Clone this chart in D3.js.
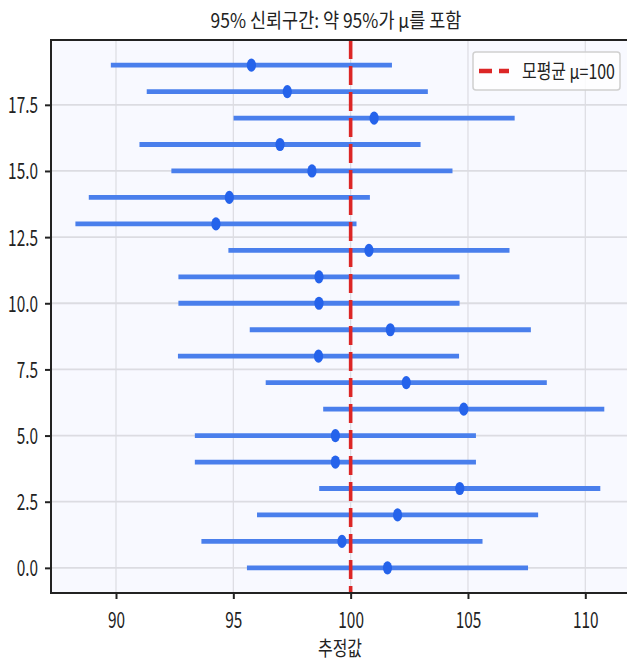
<!DOCTYPE html>
<html>
<head>
<meta charset="utf-8">
<script src="https://cdn.jsdelivr.net/npm/d3@7"></script>
<style>
  body { margin: 0; background: #fff; }
  text { font-family: "Noto Sans CJK KR", "Noto Sans", sans-serif; fill: #222; }
</style>
</head>
<body>
<svg id="chart" width="627" height="666"></svg>
<script>
// sample means of 20 repeated samples
const sampleIdx = d3.range(20);
const means = [101.57, 99.63, 102.0, 104.65, 99.35, 99.35, 104.82, 102.37, 98.63, 101.69,
               98.65, 98.65, 100.78, 94.26, 94.83, 98.35, 96.99, 101.0, 97.3, 95.77];
const halfWidth = 5.99;
const mu = 100;
const xTicks = [90, 95, 100, 105, 110];
const yTicks = [0, 2.5, 5, 7.5, 10, 12.5, 15, 17.5];

const svg = d3.select("#chart");
const padL = 51, padT = 40, padR = 628, padB = 593;
const squeeze = 0.7; // text in the reference is narrow

let x = d3.scaleLinear().domain([87.23, 111.82]).range([padL, padR]);
let y = d3.scaleLinear().domain([-0.95, 19.95]).range([padB, padT]);

// squeeze a text horizontally so it spans the given width
function fitText(sel, cx, cy, width, anchor) {
  let len = sel.node().getComputedTextLength();
  sel.attr("x", 0).attr("y", 0)
    .attr("text-anchor", anchor)
    .attr("transform", "translate(" + cx + "," + cy + ") scale(" + (width / len) + ",1)");
}

svg.append("rect")
  .attr("x", padL).attr("y", padT)
  .attr("width", padR - padL).attr("height", padB - padT)
  .attr("fill", "#f8f9ff");

// grid
svg.append("g").selectAll("line").data(xTicks).enter().append("line")
  .attr("x1", d => x(d)).attr("x2", d => x(d))
  .attr("y1", padT).attr("y2", padB)
  .attr("stroke", "#dcdce2").attr("stroke-width", 1.2);
svg.append("g").selectAll("line").data(yTicks).enter().append("line")
  .attr("x1", padL).attr("x2", padR)
  .attr("y1", d => y(d)).attr("y2", d => y(d))
  .attr("stroke", "#dcdce2").attr("stroke-width", 1.8);

// intervals
svg.append("g").selectAll("line").data(sampleIdx).enter().append("line")
  .attr("x1", i => x(means[i] - halfWidth))
  .attr("x2", i => x(means[i] + halfWidth))
  .attr("y1", i => y(i)).attr("y2", i => y(i))
  .attr("stroke", "#4a7fec").attr("stroke-width", 4.8);

svg.append("g").selectAll("ellipse").data(sampleIdx).enter().append("ellipse")
  .attr("cx", i => x(means[i])).attr("cy", i => y(i))
  .attr("rx", 4.6).attr("ry", 6.6)
  .attr("fill", "#2563eb");

// population mean
svg.append("line")
  .attr("x1", x(mu)).attr("x2", x(mu))
  .attr("y1", padT).attr("y2", padB)
  .attr("stroke", "#dc2626").attr("stroke-width", 3.6)
  .attr("stroke-dasharray", "19,7");

// axes
let xAxis = svg.append("g")
  .attr("transform", "translate(0," + padB + ")")
  .call(d3.axisBottom(x).tickValues(xTicks).tickFormat(d3.format("d")).tickSize(6));
let yAxis = svg.append("g")
  .attr("transform", "translate(" + padL + ",0)")
  .call(d3.axisLeft(y).tickValues(yTicks).tickFormat(d3.format(".1f")).tickSize(6));

[xAxis, yAxis].forEach(function(a) {
  a.select(".domain").remove();
  a.selectAll(".tick line").attr("stroke", "#222").attr("stroke-width", 2);
  a.selectAll(".tick text").style("font-size", "22px").attr("fill", "#222");
});
xAxis.selectAll(".tick text")
  .attr("y", 0).attr("dy", null)
  .attr("transform", "translate(0,35) scale(" + squeeze + ",1)");
yAxis.selectAll(".tick text")
  .attr("x", 0).attr("dy", "0.36em")
  .attr("transform", "translate(-13,0) scale(" + squeeze + ",1)");

// spines
svg.append("rect")
  .attr("x", padL).attr("y", padT)
  .attr("width", padR - padL).attr("height", padB - padT)
  .attr("fill", "none").attr("stroke", "#222").attr("stroke-width", 2);

// title and label
let title = svg.append("text").style("font-size", "20px")
  .text("95% 신뢰구간: 약 95%가 μ를 포함");
fitText(title, 336, 27.5, 251, "middle");
let xLabel = svg.append("text").style("font-size", "20px")
  .text("추정값");
fitText(xLabel, 340, 656, 44, "middle");

// legend
let legend = svg.append("g").attr("transform", "translate(473,52)");
legend.append("rect")
  .attr("width", 147).attr("height", 38).attr("rx", 3)
  .attr("fill", "#fff").attr("fill-opacity", 0.85)
  .attr("stroke", "#d0d0d0").attr("stroke-width", 1.5);
legend.append("line")
  .attr("x1", 6).attr("x2", 36).attr("y1", 19).attr("y2", 19)
  .attr("stroke", "#dc2626").attr("stroke-width", 4.5)
  .attr("stroke-dasharray", "13,7");
let legText = legend.append("text").style("font-size", "20px")
  .text("모평균 μ=100");
fitText(legText, 49, 26.5, 93, "start");
</script>
</body>
</html>
